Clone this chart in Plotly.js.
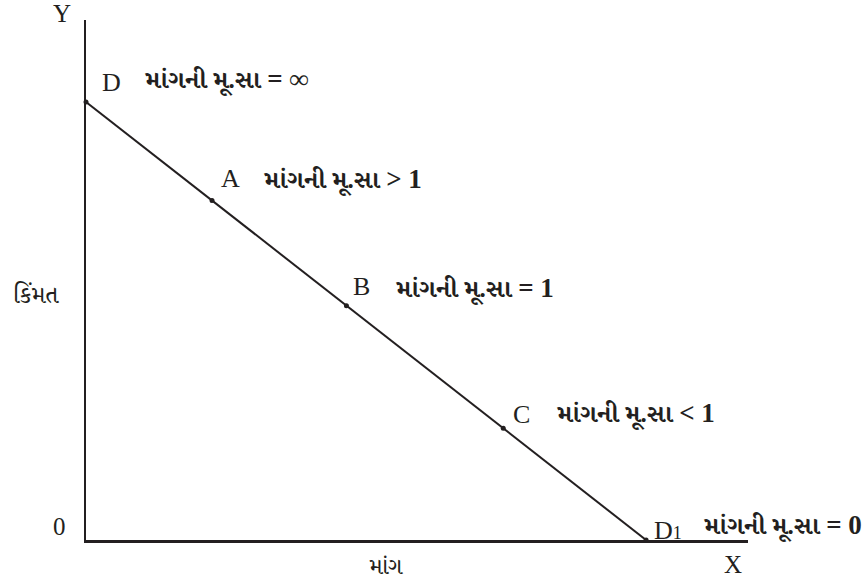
<!DOCTYPE html>
<html><head><meta charset="utf-8">
<script src="https://cdn.plot.ly/plotly-3.0.1.min.js"></script>
<style>html,body{margin:0;padding:0;background:#fff}#c{width:862px;height:584px}</style>
</head><body><div id="c"></div>
<script>
const pointNames = ["D", "A", "B", "C", "D<span style=\"font-size:18px\">1</span>"];
const quantity = [0, 2.25, 4.65, 7.45, 10];
const price = [10, 7.75, 5.35, 2.55, 0];
const elasticityLabel = "માંગની મૂ.સા";
const elasticityRelation = ["= ∞", "> 1", "= 1", "< 1", "= 0"];
const xTitle = "માંગ", yTitle = "કિંમત";

const serif = "Liberation Serif, Times New Roman, serif";
const guj = "Liberation Serif, Noto Serif Gujarati, Noto Sans Gujarati, Lohit Gujarati, serif";
const letterShift = [[14,19],[7,22],[5,19],[8,14],[6,10]];
const textShift = [[56,22],[49,20],[47,17],[51,14],[55,14]];

const ann = [];
for (let i = 0; i < pointNames.length; i++) {
  ann.push({x: quantity[i], y: price[i], xref:'x', yref:'y', text: pointNames[i], showarrow:false,
    xanchor:'left', yanchor:'middle', xshift: letterShift[i][0], yshift: letterShift[i][1],
    font:{family: serif, size:26, color:'#231f20'}});
  const rel = elasticityRelation[i].replace(' ', '\u00a0');
  ann.push({x: quantity[i], y: price[i], xref:'x', yref:'y',
    text: '<b>' + elasticityLabel + '<span style="font-size:27px">\u00a0' + rel + '</span></b>', showarrow:false,
    xanchor:'left', yanchor:'middle', xshift: textShift[i][0], yshift: textShift[i][1],
    font:{family: guj, size:25, color:'#231f20'}});
}
ann.push({x:0, y:11.87, xref:'x', yref:'y', text:'Y', showarrow:false, xanchor:'center', yanchor:'middle', xshift:-24, yshift:7, font:{family:serif,size:25,color:'#231f20'}});
ann.push({x:0, y:0, xref:'x', yref:'y', text:'0', showarrow:false, xanchor:'center', yanchor:'middle', xshift:-27, yshift:14, font:{family:serif,size:25,color:'#231f20'}});
ann.push({x:11.82, y:0, xref:'x', yref:'y', text:'X', showarrow:false, xanchor:'center', yanchor:'middle', xshift:-15, yshift:-24, font:{family:serif,size:25,color:'#231f20'}});
ann.push({x:5.36, y:0, xref:'x', yref:'y', text:xTitle, showarrow:false, xanchor:'center', yanchor:'middle', xshift:0, yshift:-26, font:{family:guj,size:23,color:'#231f20'}});
ann.push({x:0, y:5.6, xref:'x', yref:'y', text:yTitle, showarrow:false, xanchor:'center', yanchor:'middle', xshift:-50, yshift:0, font:{family:guj,size:24,color:'#231f20'}});

const trace = {x: quantity, y: price, mode:'lines+markers', type:'scatter',
  line:{color:'#231f20', width:2}, marker:{color:'#231f20', size:5}, cliponaxis:false, hoverinfo:'none'};

const layout = {
  width:862, height:584, margin:{l:86, r:114, t:20, b:44},
  paper_bgcolor:'#fff', plot_bgcolor:'#fff', showlegend:false,
  xaxis:{range:[0,11.82], showline:true, linecolor:'#231f20', linewidth:2.5, showgrid:false, zeroline:false, showticklabels:false, ticks:'', fixedrange:true},
  yaxis:{range:[0,11.87], showline:true, linecolor:'#231f20', linewidth:2.5, showgrid:false, zeroline:false, showticklabels:false, ticks:'', fixedrange:true},
  annotations: ann
};
Plotly.newPlot('c', [trace], layout, {displayModeBar:false, staticPlot:true});
</script></body></html>
